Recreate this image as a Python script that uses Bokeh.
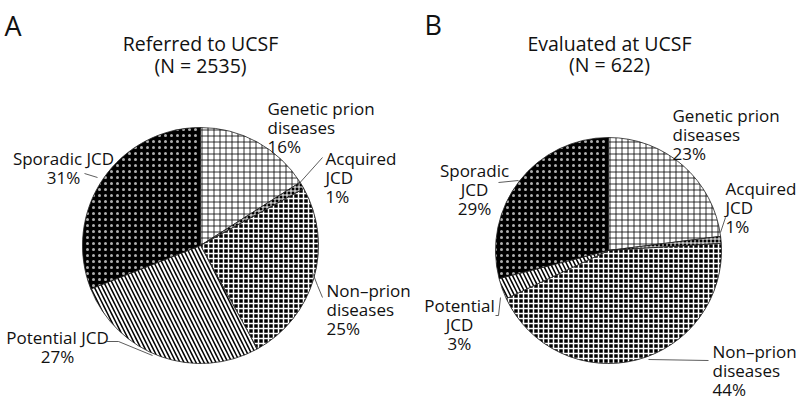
import numpy as np
from bokeh.plotting import figure
from bokeh.models import Range1d
from bokeh.core.properties import value
from bokeh.embed import file_html
from bokeh.resources import INLINE

# ---------------- data ----------------
categories = ["Genetic prion diseases", "Acquired JCD", "Non\u2013prion diseases", "Potential JCD", "Sporadic JCD"]
referred_pct = [16, 1, 25, 27, 31]
evaluated_pct = [23, 1, 44, 3, 29]
referred_title = ["Referred to UCSF", "(N = 2535)"]
evaluated_title = ["Evaluated at UCSF", "(N = 622)"]
panel_letters = ["A", "B"]
referred_names = ["Genetic prion\ndiseases", "Acquired\nJCD", "Non\u2013prion\ndiseases", "Potential JCD", "Sporadic JCD"]
evaluated_names = ["Genetic prion\ndiseases", "Acquired\nJCD", "Non\u2013prion\ndiseases", "Potential\nJCD", "Sporadic\nJCD"]

# ---------------- styles ----------------
FONT = "Open Sans"
styles = [
    dict(fill_color="white", hatch_pattern="cross", hatch_color="black", hatch_scale=6, hatch_weight=0.8),
    dict(fill_color="black", hatch_pattern="cross", hatch_color="white", hatch_scale=4, hatch_weight=1),
    dict(fill_color="black", hatch_pattern="cross", hatch_color="white", hatch_scale=5, hatch_weight=1.5),
    dict(fill_color="white", hatch_pattern="left_diagonal_line", hatch_color="black", hatch_scale=8, hatch_weight=1.5),
    dict(fill_color="black", hatch_pattern="dot", hatch_color="#b0b0b0", hatch_scale=6, hatch_weight=0.2),
]

W, H = 800, 401
p = figure(width=W, height=H, output_backend="svg", toolbar_location=None,
           x_range=Range1d(0, W), y_range=Range1d(0, H),
           min_border=0, outline_line_color=None)
p.axis.visible = False
p.grid.visible = False
p.background_fill_color = "white"
p.border_fill_color = "white"


def Y(ypix):
    return H - ypix


def draw_pie(cx, cy, r, pct):
    frac = np.array(pct, dtype=float) / np.sum(pct)
    cum = np.concatenate([[0], np.cumsum(frac)])
    for i in range(len(pct)):
        start = np.pi / 2 - cum[i + 1] * 2 * np.pi
        end = np.pi / 2 - cum[i] * 2 * np.pi
        p.wedge(x=cx, y=Y(cy), radius=r, start_angle=start, end_angle=end,
                line_color="#222222", line_width=0.8, **styles[i])


def draw_lines(x, y0, lines, align, size, dy):
    for k, t in enumerate(lines):
        p.text(x=[x], y=[Y(y0 + k * dy)], text=[t], text_font=value(FONT),
               text_font_size=f"{size}px", text_align=align, text_baseline="alphabetic",
               text_color="#111111")


def draw_labels(names, pct, layout):
    for i, (nm, v) in enumerate(zip(names, pct)):
        x, y0, align = layout[i]
        lines = nm.split("\n") + [f"{v}%"]
        draw_lines(x, y0, lines, align, 17, 19)


# ---------------- panel A ----------------
draw_pie(200, 245, 118, referred_pct)
draw_lines(4, 25, [panel_letters[0]], "left", 27, 0)
draw_lines(200, 43, referred_title, "center", 19.5, 22)
draw_labels(referred_names, referred_pct,
            [(267, 108, "left"), (325, 158, "left"), (326, 290, "left"),
             (57, 337, "center"), (63, 158, "center")])
leaders_a = [
    ([296, 322], [186, 157]),
    ([312, 317, 322], [272, 285, 297]),
    ([106, 118, 152], [341, 341, 355]),
    ([84, 97], [173, 177]),
]

# ---------------- panel B ----------------
draw_pie(608, 250, 113, evaluated_pct)
draw_lines(424, 24, [panel_letters[1]], "left", 27, 0)
draw_lines(609, 43, evaluated_title, "center", 19.5, 21)
draw_labels(evaluated_names, evaluated_pct,
            [(672, 115, "left"), (725, 188, "left"), (712, 351, "left"),
             (459, 305, "center"), (474, 170, "center")])
leaders_b = [
    ([720, 725], [232, 217]),
    ([648, 708], [359, 360]),
    ([500, 498, 495], [297, 315, 315]),
    ([498, 518], [182, 180]),
]

for xs, ys in leaders_a + leaders_b:
    p.line(x=xs, y=[Y(v) for v in ys], line_color="#333333", line_width=0.8)

open("out.html", "w").write(file_html(p, INLINE))
